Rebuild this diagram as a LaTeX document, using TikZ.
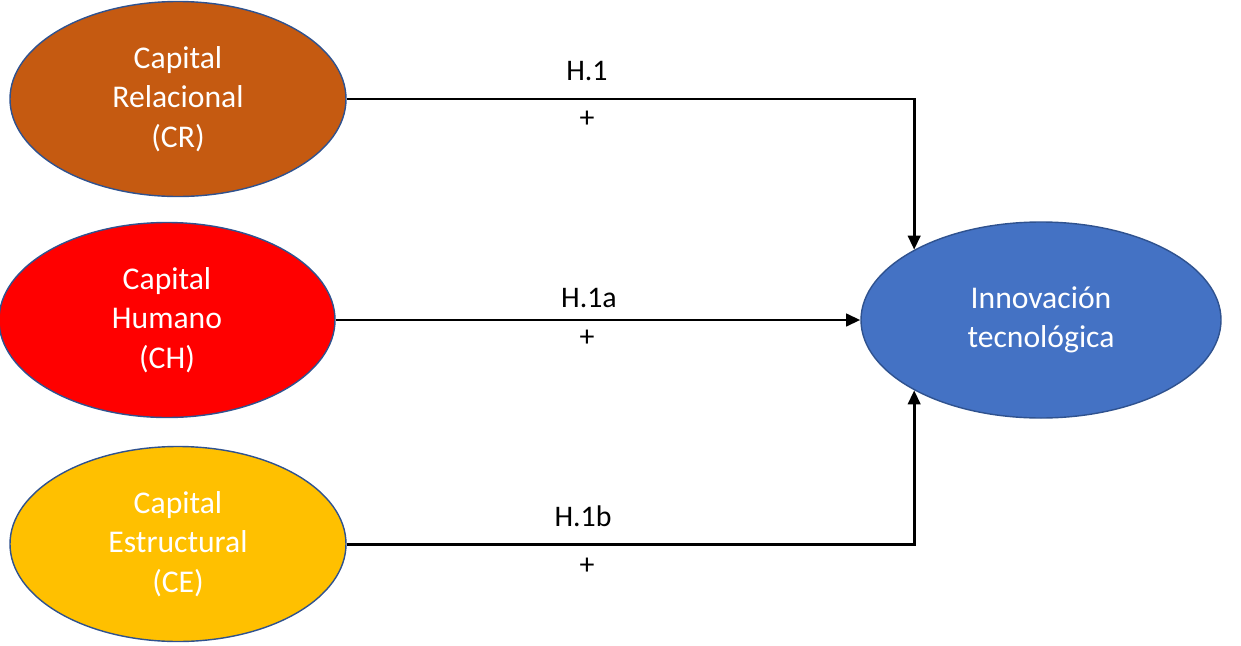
\documentclass[tikz,border=0pt]{standalone}
\usepackage{fontspec}
\setmainfont{Carlito}
\usepackage{tikz}
\usetikzlibrary{shapes,arrows.meta,positioning}
\definecolor{crbrown}{HTML}{C55A11}
\definecolor{chred}{HTML}{FF0000}
\definecolor{ceyellow}{HTML}{FFC000}
\definecolor{itblue}{HTML}{4472C4}
\definecolor{edgeblue}{HTML}{2F528F}
\tikzstyle{construct} = [draw=edgeblue, line width=0.8pt, ellipse, inner sep=0pt, minimum width=6.72cm, minimum height=3.9cm, text=white, align=center, font=\fontsize{18}{22.5}\selectfont]
\tikzstyle{hyp} = [font=\fontsize{17}{20}\selectfont]
\tikzstyle{link} = [line width=1.7pt]

\begin{document}
\begin{tikzpicture}[>={Triangle[length=8pt,width=7pt]}]
    \useasboundingbox (0,0) rectangle (24.82,-12.9);
    \node [construct, fill=crbrown] (cr) at (3.56,-1.98) {Capital\\Relacional\\(CR)};
    \node [construct, fill=chred] (ch) at (3.34,-6.40) {Capital\\Humano\\(CH)};
    \node [construct, fill=ceyellow] (ce) at (3.56,-10.88) {Capital\\Estructural\\(CE)};
    \node [construct, fill=itblue, minimum width=7.2cm, minimum height=3.92cm] (it) at (20.82,-6.40) {Innovación\\tecnológica};
    % paths into the outcome
    \draw [link, ->] (cr.east) -| (it.151);
    \draw [link, ->] (ch.east) -- (it.west);
    \draw [link, ->] (ce.east) -| (it.-151);
    % hypothesis labels
    \node [hyp] (h1) at (11.74,-1.42) {H.1};
    \node [hyp] (s1) at (11.74,-2.38) {+};
    \node [hyp] (h1a) at (11.78,-5.96) {H.1a};
    \node [hyp] (s1a) at (11.74,-6.76) {+};
    \node [hyp] (h1b) at (11.66,-10.32) {H.1b};
    \node [hyp] (s1b) at (11.74,-11.32) {+};
\end{tikzpicture}
\end{document}
